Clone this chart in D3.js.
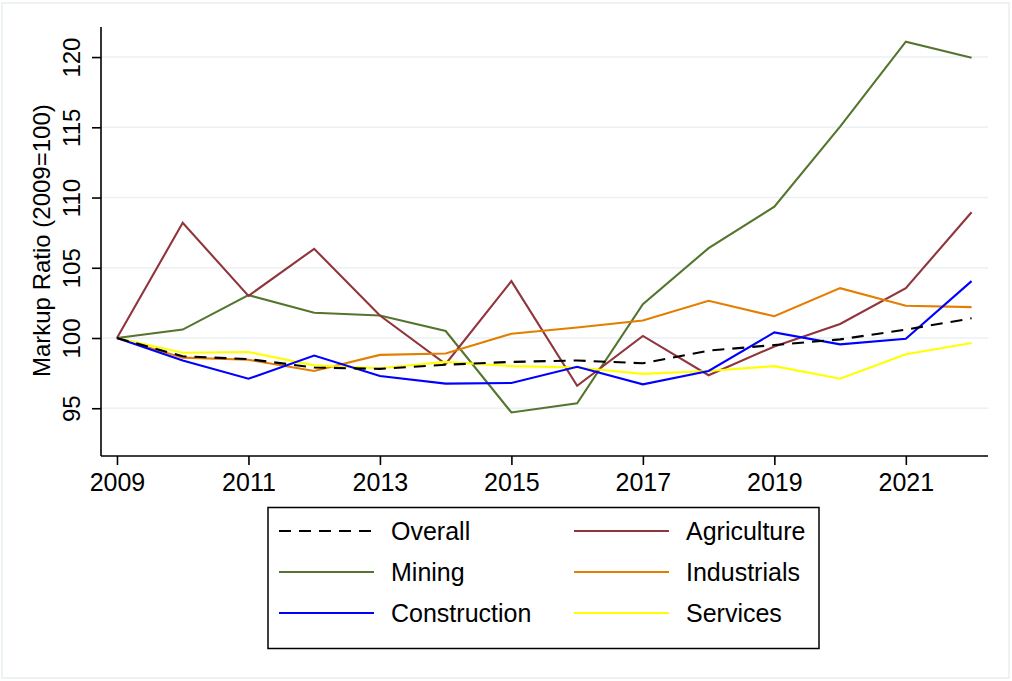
<!DOCTYPE html>
<html>
<head>
<meta charset="utf-8">
<script src="https://cdn.jsdelivr.net/npm/d3@7"></script>
<style>
  html, body { margin: 0; padding: 0; background: #fff; }
  svg text { font-family: "Liberation Sans", Arial, sans-serif; fill: #000; }
</style>
</head>
<body>
<svg id="chart" width="1012" height="681"></svg>
<script>
// Years on the horizontal axis
const years = [2009, 2010, 2011, 2012, 2013, 2014, 2015, 2016, 2017, 2018, 2019, 2020, 2021, 2022];

// Markup ratio indices (2009 = 100) by sector
const overall      = [100, 98.7, 98.5, 97.9, 97.8, 98.1, 98.3, 98.4, 98.2, 99.1, 99.5, 99.9, 100.6, 101.4];
const agriculture  = [100, 108.2, 103.0, 106.35, 101.6, 98.15, 104.05, 96.6, 100.15, 97.35, 99.4, 101.0, 103.55, 108.95];
const mining       = [100, 100.6, 103.05, 101.8, 101.6, 100.5, 94.7, 95.35, 102.4, 106.4, 109.35, 115.05, 121.1, 119.95];
const industrials  = [100, 98.6, 98.45, 97.65, 98.8, 98.9, 100.3, 100.75, 101.25, 102.65, 101.55, 103.55, 102.3, 102.2];
const construction = [100, 98.4, 97.1, 98.75, 97.3, 96.75, 96.8, 97.95, 96.7, 97.65, 100.4, 99.55, 99.95, 104.05];
const services     = [100, 98.95, 99.0, 98.05, 97.85, 98.3, 98.0, 97.9, 97.45, 97.65, 98.0, 97.1, 98.85, 99.65];

// Axis ticks
const xTicks = [2009, 2011, 2013, 2015, 2017, 2019, 2021];
const yTicks = [95, 100, 105, 110, 115, 120];

const seriesNames  = ["Overall", "Agriculture", "Mining", "Industrials", "Construction", "Services"];
const seriesValues = [overall, agriculture, mining, industrials, construction, services];
const seriesColors = ["#000000", "#90353b", "#55752f", "#e37e00", "#0000ff", "#ffff00"];
const seriesDash   = ["12,8", null, null, null, null, null];

const svg = d3.select("#chart");

// Outer graph region frame
svg.append("rect")
  .attr("x", 2).attr("y", 3).attr("width", 1007).attr("height", 675)
  .attr("fill", "#ffffff").attr("stroke", "#e7eef1").attr("stroke-width", 1.5);

const plot = { left: 101, right: 988, top: 27, bottom: 456 };

const x = d3.scaleLinear().domain([2008.757, 2022.25]).range([plot.left, plot.right]);
const y = d3.scaleLinear().domain([91.6, 122.14]).range([plot.bottom, plot.top]);

// Horizontal gridlines
svg.append("g").selectAll("line").data(yTicks).join("line")
  .attr("x1", plot.left).attr("x2", plot.right)
  .attr("y1", d => y(d)).attr("y2", d => y(d))
  .attr("stroke", "#eaf0f3").attr("stroke-width", 1.6);

// Series lines
const line = d3.line().x((d, i) => x(years[i])).y(d => y(d));
const order = [2, 1, 3, 5, 4, 0];
order.forEach(k => {
  svg.append("path")
    .datum(seriesValues[k])
    .attr("d", line)
    .attr("fill", "none")
    .attr("stroke", seriesColors[k])
    .attr("stroke-width", 2.1)
    .attr("stroke-linejoin", "miter")
    .attr("stroke-dasharray", seriesDash[k]);
});

// Y axis
const yAxis = svg.append("g").attr("transform", `translate(${plot.left},0)`)
  .call(d3.axisLeft(y).tickValues(yTicks).tickSize(9).tickFormat(d3.format("d")));
yAxis.select(".domain").attr("d", `M0,${plot.top}V${plot.bottom}`).attr("stroke", "#000").attr("stroke-width", 1.6);
yAxis.selectAll(".tick line").attr("stroke", "#000").attr("stroke-width", 1.6);
yAxis.selectAll(".tick text")
  .attr("font-size", 24)
  .attr("x", 0).attr("y", 0).attr("dy", null)
  .attr("text-anchor", "middle")
  .attr("transform", "translate(-21,0) rotate(-90)");

// X axis
const xAxis = svg.append("g").attr("transform", `translate(0,${plot.bottom})`)
  .call(d3.axisBottom(x).tickValues(xTicks).tickSize(9).tickFormat(d3.format("d")));
xAxis.select(".domain").attr("d", `M${plot.left},0H${plot.right}`).attr("stroke", "#000").attr("stroke-width", 1.6);
xAxis.selectAll(".tick line").attr("stroke", "#000").attr("stroke-width", 1.6);
xAxis.selectAll(".tick text")
  .attr("font-size", 25)
  .attr("y", 35).attr("dy", null);

// Y axis title
svg.append("text")
  .attr("transform", `translate(50,${(y(95) + y(120)) / 2 + 8}) rotate(-90)`)
  .attr("text-anchor", "middle")
  .attr("font-size", 24)
  .text("Markup Ratio (2009=100)");

// Legend
const legend = svg.append("g");
legend.append("rect")
  .attr("x", 268).attr("y", 507.5).attr("width", 551).attr("height", 141)
  .attr("fill", "#fff").attr("stroke", "#000").attr("stroke-width", 1.5);

const colX = [279, 574];
const rowY = [531, 572, 613];
seriesNames.forEach((name, i) => {
  const cx = colX[i % 2];
  const cy = rowY[Math.floor(i / 2)];
  legend.append("line")
    .attr("x1", cx).attr("x2", cx + 95)
    .attr("y1", cy).attr("y2", cy)
    .attr("stroke", seriesColors[i])
    .attr("stroke-width", 2)
    .attr("stroke-dasharray", seriesDash[i]);
  legend.append("text")
    .attr("x", cx + 112).attr("y", cy + 9)
    .attr("font-size", 25)
    .text(name);
});
</script>
</body>
</html>
